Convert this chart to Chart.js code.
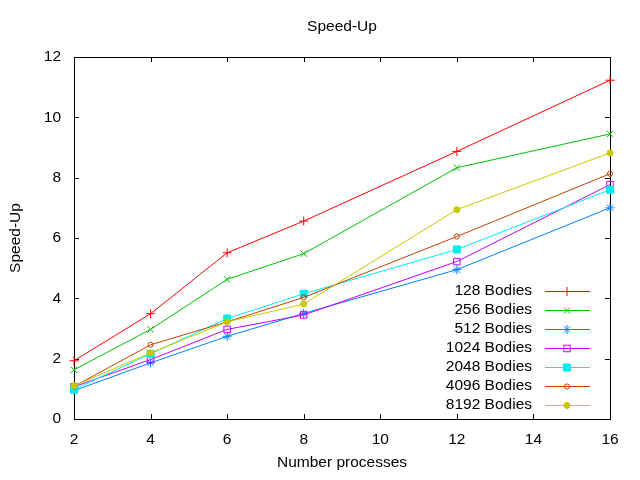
<!DOCTYPE html>
<html>
<head>
<meta charset="utf-8">
<title>Speed-Up</title>
<script src="https://cdn.jsdelivr.net/npm/chart.js@4"></script>
<style>
  html, body { margin: 0; padding: 0; background: #fff; }
  canvas { display: block; }
</style>
</head>
<body>
<canvas id="speedChart" width="640" height="480"></canvas>
<script>
const processes = [2, 4, 6, 8, 12, 16];

const bodies128 = [1.93, 3.49, 5.51, 6.56, 8.87, 11.23];
const bodies256 = [1.63, 2.97, 4.63, 5.48, 8.33, 9.45];
const bodies512 = [0.94, 1.86, 2.74, 3.50, 4.95, 7.00];
const bodies1024 = [1.07, 1.97, 2.97, 3.45, 5.22, 7.77];
const bodies2048 = [0.98, 2.16, 3.33, 4.15, 5.62, 7.60];
const bodies4096 = [1.08, 2.46, 3.22, 4.03, 6.05, 8.13];
const bodies8192 = [1.10, 2.19, 3.22, 3.81, 6.94, 8.82];

const seriesLabels = ["128 Bodies", "256 Bodies", "512 Bodies", "1024 Bodies", "2048 Bodies", "4096 Bodies", "8192 Bodies"];

const xTicks = [2, 4, 6, 8, 10, 12, 14, 16];
const yTicks = [0, 2, 4, 6, 8, 10, 12];

const FONT = "'Liberation Sans', Arial, sans-serif";
const FONT_SIZE = 15.5;

const styles = [
  { color: "#ff0000", pointStyle: "cross", radius: 4.5, filled: false },
  { color: "#00c000", pointStyle: "crossRot", radius: 4.5, filled: false },
  { color: "#0080ff", pointStyle: "star", radius: 4.5, filled: false },
  { color: "#c000ff", pointStyle: "rect", radius: 4.6, filled: false },
  { color: "#00eeee", pointStyle: "rect", radius: 5, filled: true },
  { color: "#c04000", pointStyle: "circle", radius: 2.6, filled: false },
  { color: "#c8c800", pointStyle: "circle", radius: 3, filled: true },
];

const allSeries = [bodies128, bodies256, bodies512, bodies1024, bodies2048, bodies4096, bodies8192];

function toPoints(values) {
  return values.map((v, i) => ({ x: processes[i], y: v }));
}

const datasets = allSeries.map((values, i) => ({
  label: seriesLabels[i],
  data: toPoints(values),
  borderColor: styles[i].color,
  backgroundColor: styles[i].filled ? styles[i].color : "rgba(0,0,0,0)",
  pointBorderColor: styles[i].color,
  pointBackgroundColor: styles[i].filled ? styles[i].color : "rgba(0,0,0,0)",
  pointStyle: styles[i].pointStyle,
  pointRadius: styles[i].radius,
  pointBorderWidth: 1,
  borderWidth: 1,
  tension: 0,
  fill: false,
  clip: false,
  order: allSeries.length - i,
}));

// gnuplot-like frame with inward ticks (under the data), title and key (on top)
const gnuplotFrame = {
  id: "gnuplotFrame",
  beforeDatasetsDraw(chart) {
    const ctx = chart.ctx;
    const area = chart.chartArea;
    const xs = chart.scales.x;
    const ys = chart.scales.y;
    const tick = 5;

    ctx.save();
    ctx.strokeStyle = "#000";
    ctx.lineWidth = 1;
    ctx.beginPath();
    yTicks.forEach((t) => {
      const py = Math.round(ys.getPixelForValue(t)) + 0.5;
      ctx.moveTo(area.left, py);
      ctx.lineTo(area.left + tick, py);
      ctx.moveTo(area.right, py);
      ctx.lineTo(area.right - tick, py);
    });
    xTicks.forEach((t) => {
      const px = Math.round(xs.getPixelForValue(t)) + 0.5;
      ctx.moveTo(px, area.bottom);
      ctx.lineTo(px, area.bottom - tick);
      ctx.moveTo(px, area.top);
      ctx.lineTo(px, area.top + tick);
    });
    ctx.stroke();
    ctx.strokeRect(Math.round(area.left) + 0.5, Math.round(area.top) + 0.5,
      Math.round(area.right - area.left), Math.round(area.bottom - area.top));
    ctx.restore();
  },
  afterDraw(chart) {
    const ctx = chart.ctx;
    const area = chart.chartArea;

    ctx.save();
    ctx.lineWidth = 1;

    // title
    ctx.fillStyle = "#000";
    ctx.font = FONT_SIZE + "px " + FONT;
    ctx.textAlign = "center";
    ctx.textBaseline = "middle";
    ctx.fillText("Speed-Up", (area.left + area.right) / 2, 27);

    // key
    const rowHeight = 19;
    const firstRow = 291;
    ctx.textAlign = "right";
    datasets.forEach((ds, i) => {
      const y = firstRow + i * rowHeight;
      ctx.fillStyle = "#000";
      ctx.fillText(ds.label, area.right - 78, y);
      ctx.strokeStyle = ds.borderColor;
      ctx.beginPath();
      ctx.moveTo(area.right - 65, Math.round(y) + 0.5);
      ctx.lineTo(area.right - 20, Math.round(y) + 0.5);
      ctx.stroke();
      ctx.fillStyle = ds.pointBackgroundColor;
      Chart.helpers.drawPoint(ctx, {
        pointStyle: ds.pointStyle,
        radius: ds.pointRadius,
        rotation: 0,
        borderWidth: 1,
      }, area.right - 43, Math.round(y) + 0.5);
    });
    ctx.restore();
  },
};

new Chart(document.getElementById("speedChart"), {
  type: "line",
  data: { datasets: datasets },
  options: {
    responsive: false,
    devicePixelRatio: 1,
    animation: false,
    layout: { padding: { top: 57, right: 30, left: 0, bottom: 0 } },
    plugins: {
      legend: { display: false },
      title: { display: false },
      tooltip: { enabled: false },
    },
    scales: {
      x: {
        type: "linear",
        min: 2,
        max: 16,
        afterBuildTicks: (scale) => { scale.ticks = xTicks.map((v) => ({ value: v })); },
        afterFit: (scale) => { scale.height = 61; },
        grid: { display: false, drawTicks: false },
        border: { display: false },
        ticks: { color: "#000", font: { family: FONT, size: FONT_SIZE }, padding: 11, maxRotation: 0 },
        title: {
          display: true,
          text: "Number processes",
          color: "#000",
          font: { family: FONT, size: FONT_SIZE },
          padding: { top: 4, bottom: 8 },
        },
      },
      y: {
        type: "linear",
        min: 0,
        max: 12,
        afterBuildTicks: (scale) => { scale.ticks = yTicks.map((v) => ({ value: v })); },
        afterFit: (scale) => { scale.width = 74; },
        grid: { display: false, drawTicks: false },
        border: { display: false },
        ticks: { color: "#000", font: { family: FONT, size: FONT_SIZE }, padding: 13 },
        title: {
          display: true,
          text: "Speed-Up",
          color: "#000",
          font: { family: FONT, size: FONT_SIZE },
          padding: { top: 6, bottom: 4 },
        },
      },
    },
  },
  plugins: [gnuplotFrame],
});
</script>
</body>
</html>
